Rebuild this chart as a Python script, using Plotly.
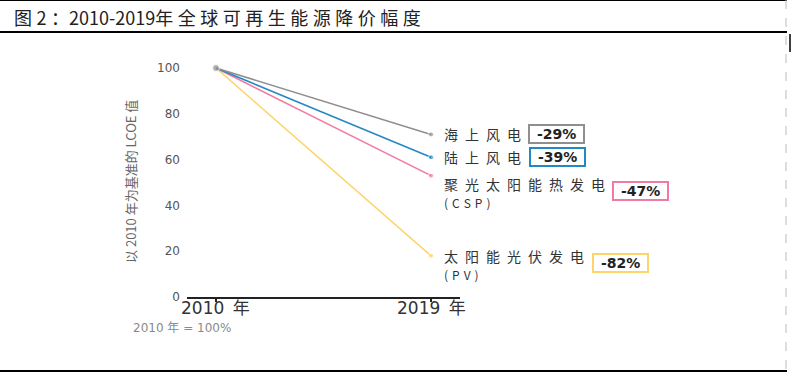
import plotly.graph_objects as go

# ---- data ----
years = [2010, 2019]
series_names = ["海上风电", "陆上风电", "聚光太阳能热发电", "太阳能光伏发电"]
series_sub = ["", "", "(CSP)", "(PV)"]
offshore = [100, 71]
onshore = [100, 61]
csp = [100, 53]
pv = [100, 18]
changes = ["-29%", "-39%", "-47%", "-82%"]
y_ticks = [0, 20, 40, 60, 80, 100]
x_tick_labels = ["2010\u2002年", "2019\u2002年"]

values = [offshore, onshore, csp, pv]
colors = ["#8f8f8f", "#2389c2", "#f07aa1", "#fcd46a"]

W, H = 791, 373
L, R, T, B = 187, 331, 60, 76
PW, PH = W - L - R, H - T - B


def px_x(px):
    return (px - L) / PW


def px_y(py):
    return (H - B - py) / PH


fig = go.Figure()

# draw so grey is on top at the common start point
for i in [3, 2, 1, 0]:
    fig.add_trace(go.Scatter(
        x=years, y=values[i], mode="lines+markers",
        line=dict(color=colors[i], width=1.6),
        marker=dict(color=colors[i], size=[7 if i == 0 else 0, 5]),
        showlegend=False, hoverinfo="skip",
    ))

CJK = "Noto Sans CJK SC"
sp = "\u2002"
label_cfg = [
    # (label yshift, box xshift, box yshift)
    (0, 125, 0),
    (0, 126, 0),
    (-17, 209, -15),
    (-9, 189, -7),
]
for i, name in enumerate(series_names):
    ly, bx, by = label_cfg[i]
    if series_sub[i]:
        txt = (sp.join(name) + '<br><span style="font-size:12px">'
               + "\u2004".join(series_sub[i]) + "</span>")
    else:
        txt = sp.join(name)
    fig.add_annotation(x=years[1], y=values[i][1], xref="x", yref="y",
                       text=txt, showarrow=False, xanchor="left", align="left",
                       yanchor="middle", xshift=11, yshift=ly,
                       font=dict(family=CJK, size=14, color="#333333"))
    fig.add_annotation(x=years[1], y=values[i][1], xref="x", yref="y",
                       text="\u2002<b>" + changes[i] + "</b>\u2002",
                       showarrow=False,
                       xanchor="center", yanchor="middle", xshift=bx, yshift=by,
                       bordercolor=colors[i], borderwidth=2, borderpad=0,
                       bgcolor="white",
                       font=dict(family="DejaVu Sans", size=14, color="#222222"))

# x tick labels
for yr, lab in zip(years, x_tick_labels):
    fig.add_annotation(x=yr, y=px_y(308), xref="x", yref="paper", text=lab,
                       showarrow=False, xanchor="center", yanchor="middle",
                       font=dict(family="DejaVu Sans, Noto Sans CJK SC", size=17,
                                 color="#333333"))

# y axis title
fig.add_annotation(x=px_x(130), y=px_y(182), xref="paper", yref="paper",
                   text="以 2010 年为基准的 LCOE 值", textangle=-90,
                   showarrow=False, xanchor="center", yanchor="middle",
                   font=dict(family=CJK, size=13, color="#666666"))
# footnote
fig.add_annotation(x=px_x(131), y=px_y(328), xref="paper", yref="paper",
                   text="2010 年 = 100%", showarrow=False, xanchor="left",
                   yanchor="middle",
                   font=dict(family="DejaVu Sans, Noto Sans CJK SC", size=12,
                             color="#8a8a8a"))
# title
fig.add_annotation(x=px_x(12), y=px_y(17), xref="paper", yref="paper",
                   text="\u2005".join("图2：") + "2010-2019" + "\u2005".join("年全球可再生能源降价幅度"),
                   showarrow=False,
                   xanchor="left", yanchor="middle",
                   font=dict(family=CJK, size=18, color="#222222"))

# frame lines
shapes = [
    dict(type="line", x0=px_x(0), x1=px_x(787), y0=px_y(0.5), y1=px_y(0.5),
         line=dict(color="black", width=1)),
    dict(type="line", x0=px_x(0), x1=px_x(787), y0=px_y(32), y1=px_y(32),
         line=dict(color="black", width=2)),
    dict(type="line", x0=px_x(0), x1=px_x(787), y0=px_y(371), y1=px_y(371),
         line=dict(color="black", width=2)),
    dict(type="line", x0=px_x(786), x1=px_x(786), y0=px_y(0), y1=px_y(373),
         line=dict(color="#bbbbbb", width=1, dash="dash")),
    dict(type="line", x0=px_x(790), x1=px_x(790), y0=px_y(34), y1=px_y(52),
         line=dict(color="black", width=1.5)),
]
for s in shapes:
    s.update(xref="paper", yref="paper")
    fig.add_shape(**s)

fig.update_layout(
    width=W, height=H,
    margin=dict(l=L, r=R, t=T, b=B, pad=0, autoexpand=False),
    plot_bgcolor="white", paper_bgcolor="white",
    xaxis=dict(range=[2010 - 29 / 23.9, 2019 + 29 / 23.9], tickmode="array",
               tickvals=years, showticklabels=False, showgrid=False,
               zeroline=False, showline=True, linecolor="#222222", linewidth=2,
               ticks="outside", ticklen=3, tickwidth=2, tickcolor="#222222",
               automargin=False),
    yaxis=dict(range=[0, (297 - 60) / 2.29], tickmode="array", tickvals=y_ticks,
               showgrid=False, zeroline=False, showline=False,
               ticklabelstandoff=6, automargin=False,
               tickfont=dict(family="DejaVu Sans", size=12, color="#555555")),
)

fig.write_html("out.html", config={"displayModeBar": False},
               post_script="document.body.style.margin='0';"
                           "document.body.style.overflow='hidden';")
